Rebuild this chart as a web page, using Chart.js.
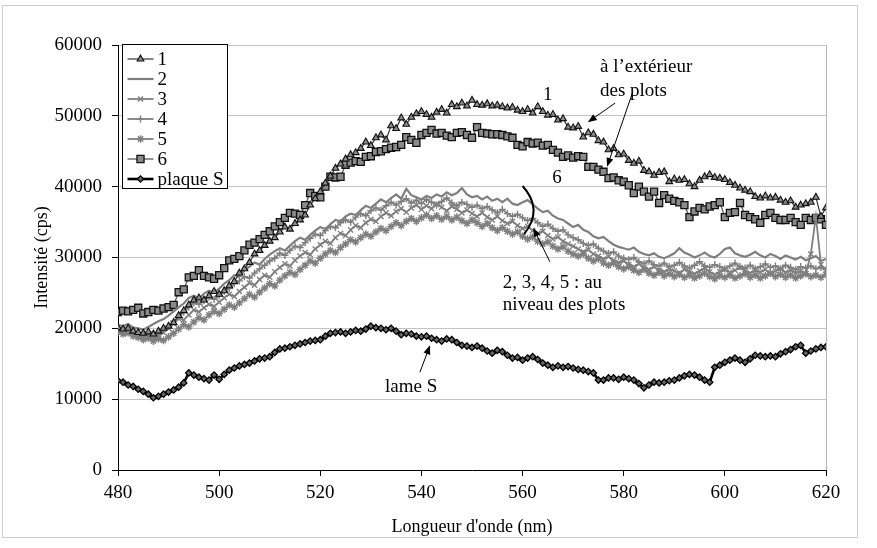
<!DOCTYPE html>
<html>
<head>
<meta charset="utf-8">
<script src="https://cdn.jsdelivr.net/npm/chart.js@4.4.0/dist/chart.umd.min.js"></script>
<style>
  html, body { margin: 0; padding: 0; background: #fff; }
  #wrap { width: 877px; height: 548px; }
</style>
</head>
<body>
<div id="wrap"><canvas id="chart" width="877" height="548"></canvas></div>
<script>
// Wavelength (nm)
const wavelengths = [
  480, 481, 482, 483, 484, 485, 486, 487, 488, 489,
  490, 491, 492, 493, 494, 495, 496, 497, 498, 499,
  500, 501, 502, 503, 504, 505, 506, 507, 508, 509,
  510, 511, 512, 513, 514, 515, 516, 517, 518, 519,
  520, 521, 522, 523, 524, 525, 526, 527, 528, 529,
  530, 531, 532, 533, 534, 535, 536, 537, 538, 539,
  540, 541, 542, 543, 544, 545, 546, 547, 548, 549,
  550, 551, 552, 553, 554, 555, 556, 557, 558, 559,
  560, 561, 562, 563, 564, 565, 566, 567, 568, 569,
  570, 571, 572, 573, 574, 575, 576, 577, 578, 579,
  580, 581, 582, 583, 584, 585, 586, 587, 588, 589,
  590, 591, 592, 593, 594, 595, 596, 597, 598, 599,
  600, 601, 602, 603, 604, 605, 606, 607, 608, 609,
  610, 611, 612, 613, 614, 615, 616, 617, 618, 619,
  620
];

const serie1 = [
  20100, 19900, 20000, 19600, 19400, 19300, 19500, 19200, 19600, 20000,
  20300, 20800, 21800, 22500, 23300, 24000, 24300, 24000, 24600, 25200,
  24800, 25300, 26000, 26600, 27800, 28400, 29300, 30500, 31000, 31700,
  32300, 32800, 33600, 34300, 34000, 34800, 35300, 36000, 37400, 38300,
  39300, 40500, 41500, 42600, 43200, 43900, 44500, 44800, 45400, 46300,
  45800, 46900, 47300, 46600, 48600, 48200, 49700, 48800, 49800, 50300,
  50600, 50200, 49800, 50500, 50900, 50400, 51600, 51300, 51800, 51400,
  52200, 51600, 51500, 51700, 51400, 51500, 51300, 51100, 51200, 50800,
  50600, 50900, 50400, 51300, 50600, 50100, 50200, 49400, 49600, 48400,
  48300, 48500, 47000, 47600, 47400, 46500, 46300, 45200, 45400, 44500,
  44600, 43700, 43300, 43600, 42300, 42100, 41600, 42000, 42100, 40700,
  41100, 40900, 41000, 40400, 40000, 40900, 41400, 41700, 41300, 41200,
  41000, 40600, 40200, 39800, 39500, 39300, 38600, 38400, 38700, 38400,
  38500, 38100, 37800, 38000, 37100, 37400, 37600, 37800, 38500, 35800,
  37000
];

const serie2 = [
  20500, 20300, 20600, 20100, 20000, 19800, 20200, 20600, 21000, 21300, 21800,
  22400, 23000, 23500, 24300, 24600, 24200, 24900, 25300, 25000, 25600,
  26300, 26800, 27500, 27300, 28200, 28700, 29300, 29000, 29800, 30400,
  30900, 31300, 31000, 31700, 32300, 32800, 32500, 33200, 33800, 34300,
  34000, 34700, 35300, 35100, 35800, 36200, 36000, 36700, 37300, 37000,
  37600, 38200, 37800, 38400, 38900, 38300, 39700, 38800, 38500, 38200,
  38700, 38400, 38900, 38600, 39200, 38800, 39100, 39800, 38900, 38500,
  38700, 38200, 38600, 38000, 38300, 37800, 38300, 37600, 37400, 37800,
  38100, 37500, 36900, 36400, 36600, 35900, 35500, 35300, 34800, 34300,
  34600, 33900, 33600, 33000, 32700, 32900, 32300, 31800, 31500, 31300,
  31100, 31400, 30800, 30500, 30300, 30600, 30100, 29900, 30200, 30600,
  31300, 30700, 30400, 30000, 30300, 30700, 30200, 30000, 30500, 31200,
  31400, 30600, 30300, 30100, 30400, 30800, 30300, 30000, 30500, 30200,
  29800, 30300, 30000, 29700, 30100, 29600, 29900, 30200, 29500, 29800
];

const serie3 = [
  19800, 19600, 19300, 19500, 19100, 18800, 19000, 18600, 18900, 19400, 20000,
  20700, 21400, 21200, 21900, 22600, 22300, 22900, 23400, 23100, 23700,
  24300, 24800, 24500, 25200, 25800, 26400, 26100, 26900, 27500, 27200,
  28000, 28600, 29100, 28800, 29600, 30200, 30700, 30400, 31200, 31800,
  32300, 32000, 32800, 33400, 33100, 33900, 34500, 34200, 34900, 35400,
  35100, 35800, 36300, 35900, 36500, 36900, 36400, 37000, 37400, 36800,
  37300, 36900, 37500, 37100, 36600, 37200, 36800, 36300, 36700, 36200,
  35800, 36300, 35700, 35300, 35800, 35200, 34800, 35100, 34500, 34100,
  34400, 33800, 33400, 33700, 33100, 32600, 32900, 32300, 31900, 31600,
  31200, 30800, 31100, 30500, 30200, 29800, 30100, 29600, 29300, 29500,
  29000, 28700, 29100, 28600, 28300, 28700, 28200, 28000, 28400, 28100,
  27800, 28300, 28000, 27700, 28100, 28500, 28000, 27600, 28000, 28300,
  27900, 28200, 28600, 28100, 27800, 28200, 27900, 28300, 27700, 28100,
  28400, 27900, 28200, 27800, 28100, 27700, 30500, 35800, 29000, 28200
];

const serie4 = [
  20000, 19800, 20100, 19600, 19400, 19200, 19500, 19000, 19300, 19800, 20300,
  21000, 21600, 22300, 23000, 23600, 23400, 23900, 24400, 24100, 24600,
  25200, 25600, 26300, 26700, 27300, 27100, 27800, 28400, 28900, 29500,
  29900, 30600, 30300, 31000, 31600, 31400, 32100, 32700, 33300, 33100,
  33800, 34400, 34200, 34900, 35300, 35000, 35700, 36200, 35900, 36600,
  37000, 36700, 37300, 37800, 37400, 37900, 38300, 37700, 38100, 37600,
  38200, 37800, 37400, 37900, 38400, 37700, 37300, 37800, 37500, 37100,
  37400, 36900, 37200, 36700, 36300, 36800, 36200, 35800, 36100, 35600,
  35200, 35500, 34900, 34400, 34700, 34100, 33700, 33900, 33200, 32800,
  32500, 32000, 31700, 31900, 31300, 30900, 30600, 30800, 30200, 29900,
  29700, 30000, 29400, 29100, 29500, 29000, 28800, 29200, 28700, 28900,
  29300, 28800, 28500, 28900, 29400, 28800, 28600, 29000, 28700, 28400,
  28800, 29200, 28700, 28500, 28900, 28400, 28700, 29100, 28600, 28800,
  28400, 28900, 28600, 28300, 28700, 28500, 28800, 28400, 28600, 28300
];

const serie5 = [
  19500, 19200, 19400, 18900, 18700, 18400, 18600, 18200, 18500, 18300, 18800,
  19300, 19900, 20500, 20200, 20900, 21500, 21200, 21900, 22400, 22100,
  22700, 23300, 23000, 23600, 24200, 24800, 24400, 25100, 25700, 26300,
  26000, 26800, 27400, 27900, 27600, 28300, 28900, 29500, 29200, 29900,
  30500, 31000, 30700, 31400, 31900, 32500, 32200, 32800, 33300, 33000,
  33600, 34100, 33800, 34400, 34900, 34500, 35100, 35500, 35100, 35600,
  36000, 35500, 35900, 35400, 35800, 35300, 35700, 35200, 34800, 35300,
  34900, 34400, 34800, 34200, 33800, 34200, 33700, 33300, 33600, 33000,
  32600, 32900, 32300, 31900, 32200, 31600, 31200, 31500, 30900, 30500,
  30200, 30500, 29900, 29500, 29800, 29200, 28900, 29200, 28700, 28400,
  28700, 28200, 27900, 28300, 27800, 27500, 27900, 27400, 27700, 27300,
  27600, 27200, 27500, 27100, 27400, 27800, 27300, 27000, 27400, 27200,
  27500, 27100, 27400, 27700, 27200, 27500, 27100, 27400, 27800, 27300,
  27600, 27200, 27500, 27100, 27400, 27700, 27300, 27500, 27200, 27600
];

const serie6 = [
  22300, 22500, 22400, 22600, 22900, 22100, 22300, 22600, 22500, 22800,
  23000, 23300, 25100, 25500, 27200, 27400, 28200, 27400, 27200, 27000,
  27500, 28500, 29600, 29800, 30200, 31000, 31800, 32100, 32600, 33200,
  33700, 34400, 35000, 35600, 36300, 36200, 36000, 37400, 39100, 38700,
  38500, 40000, 41400, 41300, 41400, 43100, 43400, 43600, 43500, 44200,
  44300, 44900, 45000, 45300, 45500, 45600, 45900, 47000, 46600, 46200,
  47300, 47600, 48000, 47500, 47600, 47200, 47000, 47600, 47700, 47300,
  46900, 48400, 47600, 47500, 47400, 47400, 47300, 47100, 46900, 45900,
  45700, 46300, 46100, 46200, 45800, 45900, 45200, 44800, 44200, 44400,
  44100, 44300, 44200, 42800, 42800, 42400, 42100, 41200, 41300, 40900,
  40700, 40200, 39100, 40000, 39300, 38600, 39300, 37700, 38800, 38300,
  38000, 37800, 37400, 35700, 36500, 37000, 36800, 37200, 37400, 37800,
  35700, 36300, 36400, 37700, 36000, 35700, 35400, 34900, 36000, 36300,
  35600, 35300, 35300, 35600, 35000, 34600, 35600, 35300, 35600, 35400,
  34600
];

const plaqueS = [
  12600, 12400, 12000, 11800, 11400, 11100, 10700, 10200, 10400, 10700,
  11000, 11300, 11700, 12300, 13700, 13400, 13100, 12900, 12700, 13400,
  12800, 13500, 14100, 14400, 14700, 14900, 15100, 15400, 15700, 15800,
  16000, 16600, 17100, 17200, 17400, 17600, 17800, 18000, 18200, 18300,
  18400, 18900, 19300, 19400, 19500, 19300, 19500, 19700, 19600, 19900,
  20300, 20100, 20000, 19800, 20000, 19600, 19100, 19300, 19200, 18900,
  18800, 18900, 18600, 18400, 18200, 18500, 18400, 18000, 17600, 17500,
  17300, 17500, 17200, 16800, 16500, 16900, 16700, 16200, 15800, 15900,
  15500, 15800, 16000, 15600, 15100, 14800, 14500, 14700, 14500, 14600,
  14400, 14200, 14100, 13900, 13700, 12700, 12700, 13000, 13000, 12800,
  13100, 12900, 12700, 12200, 11600, 12000, 12400, 12300, 12400, 12600,
  12700, 13000, 13300, 13500, 13400, 13100, 12700, 12400, 14500, 14800,
  15200, 15500, 15800, 15500, 15200, 15700, 16200, 16100, 16000, 16100,
  16000, 16400, 16700, 17000, 17400, 17600, 16500, 16800, 17100, 17300,
  17400
];

const yTicks = [0, 10000, 20000, 30000, 40000, 50000, 60000];
const xTicks = [480, 500, 520, 540, 560, 580, 600, 620];

const FONT = '"Liberation Serif", "Times New Roman", serif';
const GRAY = '#7f7f7f';

function toPoints(values) {
  return wavelengths.map((w, i) => ({ x: w, y: values[i] }));
}

// outer frame + white background
const framePlugin = {
  id: 'frame',
  beforeDraw(chart) {
    const ctx = chart.ctx;
    ctx.save();
    ctx.fillStyle = '#fff';
    ctx.fillRect(0, 0, chart.width, chart.height);
    ctx.strokeStyle = '#cfcfcf';
    ctx.lineWidth = 1;
    ctx.strokeRect(2.5, 5.5, 855, 532);
    ctx.restore();
  },
  beforeDatasetsDraw(chart) {
    const { ctx, chartArea } = chart;
    ctx.save();
    ctx.strokeStyle = '#b8b8b8';
    ctx.lineWidth = 1;
    ctx.beginPath();
    ctx.moveTo(Math.round(chartArea.right) + 0.5, chartArea.top);
    ctx.lineTo(Math.round(chartArea.right) + 0.5, chartArea.bottom);
    ctx.stroke();
    ctx.restore();
  }
};

function drawMarker(ctx, ds, x, y) {
  if (!ds.pointRadius) return;
  ctx.save();
  ctx.fillStyle = ds.pointBackgroundColor;
  ctx.strokeStyle = ds.pointBorderColor;
  ctx.lineWidth = ds.pointBorderWidth;
  Chart.helpers.drawPoint(ctx, {
    pointStyle: ds.pointStyle,
    radius: ds.pointRadius,
    borderWidth: ds.pointBorderWidth,
    rotation: 0
  }, x, y);
  ctx.restore();
}

// legend box inside the plot, top-left
const legendBoxPlugin = {
  id: 'legendBox',
  afterDatasetsDraw(chart) {
    const { ctx, chartArea } = chart;
    const left = Math.round(chartArea.left) + 4.5;
    const top = Math.round(chartArea.top) - 0.5;
    const datasets = chart.data.datasets;
    ctx.save();
    ctx.fillStyle = '#fff';
    ctx.fillRect(left, top, 105, 144);
    ctx.strokeStyle = '#000';
    ctx.lineWidth = 1;
    ctx.strokeRect(left, top, 105, 144);
    ctx.font = '19px ' + FONT;
    ctx.textBaseline = 'middle';
    datasets.forEach((ds, i) => {
      const y = top + 14.5 + i * 20;
      ctx.strokeStyle = ds.borderColor;
      ctx.lineWidth = ds.borderWidth;
      ctx.beginPath();
      ctx.moveTo(left + 5, y);
      ctx.lineTo(left + 31, y);
      ctx.stroke();
      drawMarker(ctx, ds, left + 18, y);
      ctx.fillStyle = '#000';
      ctx.fillText(ds.label, left + 35, y + 1);
    });
    ctx.restore();
  }
};

function arrow(ctx, x1, y1, x2, y2) {
  const a = Math.atan2(y2 - y1, x2 - x1);
  const len = 9, half = 3.5;
  ctx.beginPath();
  ctx.moveTo(x1, y1);
  ctx.lineTo(x2 - Math.cos(a) * len * 0.8, y2 - Math.sin(a) * len * 0.8);
  ctx.stroke();
  ctx.beginPath();
  ctx.moveTo(x2, y2);
  ctx.lineTo(x2 - Math.cos(a) * len - Math.sin(a) * half, y2 - Math.sin(a) * len + Math.cos(a) * half);
  ctx.lineTo(x2 - Math.cos(a) * len + Math.sin(a) * half, y2 - Math.sin(a) * len - Math.cos(a) * half);
  ctx.closePath();
  ctx.fill();
}

// text labels, arrows and the bracket
const notesPlugin = {
  id: 'notes',
  afterDatasetsDraw(chart) {
    const ctx = chart.ctx;
    const sx = v => chart.scales.x.getPixelForValue(v);
    const sy = v => chart.scales.y.getPixelForValue(v);
    ctx.save();
    ctx.fillStyle = '#000';
    ctx.strokeStyle = '#000';
    ctx.font = '19px ' + FONT;
    ctx.textBaseline = 'alphabetic';

    ctx.textAlign = 'center';
    ctx.fillText('1', sx(565.0), sy(52200));
    ctx.fillText('6', sx(566.8), sy(40500));

    ctx.textAlign = 'left';
    ctx.fillText('\u00e0 l\u2019ext\u00e9rieur', sx(575.3), sy(56200));
    ctx.fillText('des plots', sx(575.3), sy(52800));
    ctx.fillText('2, 3, 4, 5 : au', sx(556.1), sy(25700));
    ctx.fillText('niveau des plots', sx(556.1), sy(22600));
    ctx.fillText('lame S', sx(532.8), sy(11000));

    ctx.lineWidth = 1;
    arrow(ctx, sx(578.3), sy(51800), sx(572.9), sy(49100));
    arrow(ctx, sx(581.8), sy(53400), sx(576.7), sy(42800));
    arrow(ctx, sx(565.4), sy(29400), sx(562.1), sy(34200));
    arrow(ctx, sx(539.7), sy(13800), sx(541.7), sy(17600));

    ctx.lineWidth = 2;
    ctx.beginPath();
    ctx.moveTo(sx(560.0), sy(40100));
    ctx.quadraticCurveTo(sx(564.2), sy(36800), sx(560.3), sy(33300));
    ctx.stroke();
    ctx.restore();
  }
};

const ctx = document.getElementById('chart').getContext('2d');
new Chart(ctx, {
  type: 'line',
  data: {
    datasets: [
      {
        label: '1', data: toPoints(serie1),
        borderColor: '#333', borderWidth: 1.2,
        pointStyle: 'triangle', pointRadius: 3.9, pointBorderWidth: 1.1,
        pointBackgroundColor: '#8c8c8c', pointBorderColor: '#111'
      },
      {
        label: '2', data: toPoints(serie2),
        borderColor: GRAY, borderWidth: 2.2,
        pointStyle: 'circle', pointRadius: 0, pointBorderWidth: 0,
        pointBackgroundColor: GRAY, pointBorderColor: GRAY
      },
      {
        label: '3', data: toPoints(serie3),
        borderColor: GRAY, borderWidth: 1.8,
        pointStyle: 'crossRot', pointRadius: 3.6, pointBorderWidth: 1.4,
        pointBackgroundColor: GRAY, pointBorderColor: GRAY
      },
      {
        label: '4', data: toPoints(serie4),
        borderColor: GRAY, borderWidth: 1.8,
        pointStyle: 'cross', pointRadius: 3.6, pointBorderWidth: 1.4,
        pointBackgroundColor: GRAY, pointBorderColor: GRAY
      },
      {
        label: '5', data: toPoints(serie5),
        borderColor: GRAY, borderWidth: 1.8,
        pointStyle: 'star', pointRadius: 3.8, pointBorderWidth: 1.4,
        pointBackgroundColor: GRAY, pointBorderColor: GRAY
      },
      {
        label: '6', data: toPoints(serie6),
        borderColor: '#666', borderWidth: 1.4,
        pointStyle: 'rect', pointRadius: 5, pointBorderWidth: 1.3,
        pointBackgroundColor: '#8a8a8a', pointBorderColor: '#111'
      },
      {
        label: 'plaque S', data: toPoints(plaqueS),
        borderColor: '#000', borderWidth: 2.6,
        pointStyle: 'rectRot', pointRadius: 3.2, pointBorderWidth: 1.3,
        pointBackgroundColor: '#666', pointBorderColor: '#000'
      }
    ]
  },
  options: {
    responsive: false,
    animation: false,
    events: [],
    layout: { padding: { top: 45, right: 51, bottom: 0, left: 0 } },
    elements: { line: { tension: 0 } },
    plugins: {
      legend: { display: false },
      tooltip: { enabled: false }
    },
    scales: {
      x: {
        type: 'linear',
        min: 480,
        max: 620,
        afterBuildTicks: scale => { scale.ticks = xTicks.map(v => ({ value: v })); },
        afterFit: scale => { scale.height = 78; },
        grid: { drawOnChartArea: false, drawTicks: true, tickLength: 6, tickColor: '#000' },
        border: { color: '#000', width: 1 },
        ticks: {
          color: '#000',
          padding: 6,
          maxRotation: 0,
          font: { family: FONT, size: 19 },
          callback: v => String(v)
        },
        title: {
          display: true,
          text: "Longueur d'onde (nm)",
          color: '#000',
          font: { family: FONT, size: 18 },
          padding: { top: 0, bottom: 10 }
        }
      },
      y: {
        min: 0,
        max: 60000,
        afterBuildTicks: scale => { scale.ticks = yTicks.map(v => ({ value: v })); },
        afterFit: scale => { scale.width = 118; },
        grid: { color: '#c4c4c4', lineWidth: 1, drawTicks: true, tickLength: 6, tickColor: '#000' },
        border: { color: '#000', width: 1 },
        ticks: {
          color: '#000',
          padding: 10,
          font: { family: FONT, size: 19 },
          callback: v => String(v)
        },
        title: {
          display: true,
          text: 'Intensit\u00e9 (cps)',
          color: '#000',
          font: { family: FONT, size: 18 },
          padding: { top: 31, bottom: 0 }
        }
      }
    }
  },
  plugins: [framePlugin, legendBoxPlugin, notesPlugin]
});
</script>
</body>
</html>
